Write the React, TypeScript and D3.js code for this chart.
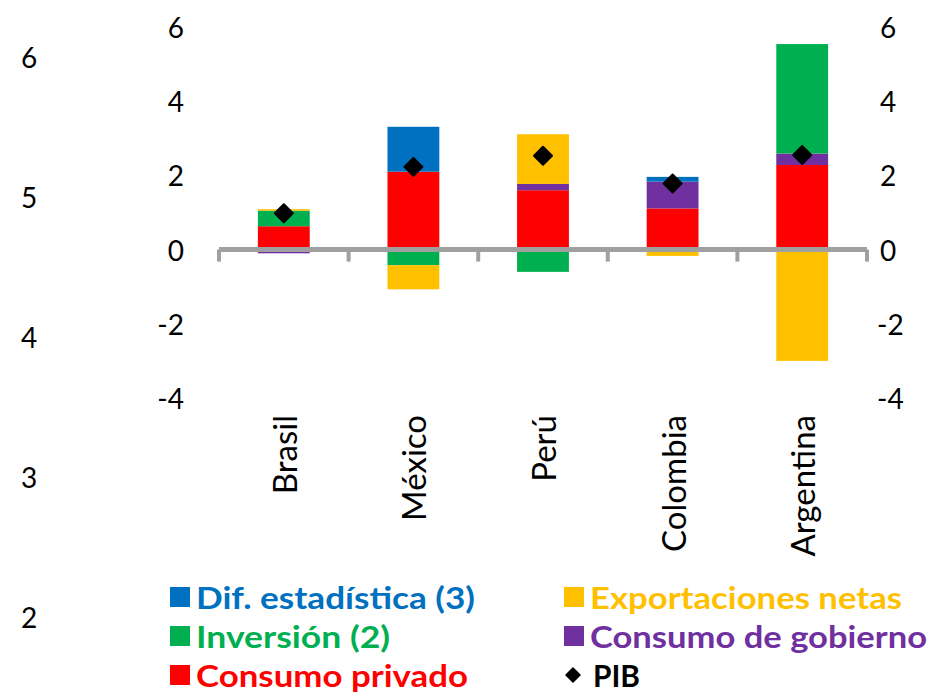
import React from "react";
import * as d3 from "d3";

const categories = ["Brasil", "México", "Perú", "Colombia", "Argentina"];
const consumoPrivado = [0.63, 2.1, 1.6, 1.11, 2.28];
const consumoGobierno = [-0.1, 0, 0.17, 0.72, 0.31];
const inversion = [0.42, -0.42, -0.6, 0, 2.95];
const exportacionesNetas = [0.04, -0.65, 1.34, -0.17, -3.0];
const difEstadistica = [0, 1.21, 0, 0.13, 0];
const pib = [0.98, 2.23, 2.53, 1.78, 2.55];

const seriesKeys = ["privado", "gobierno", "inversion", "export", "dif"];
const seriesColors = ["#FF0000", "#7030A0", "#00B050", "#FFC000", "#0070C0"];
const yTicks = [-4, -2, 0, 2, 4, 6];
const leftTicks = [2, 3, 4, 5, 6];

const W = 946;
const H = 694;
const FONT = "Lato, 'Open Sans', sans-serif";

export default function App() {
  const table = categories.map((c, i) => ({
    cat: c,
    privado: consumoPrivado[i],
    gobierno: consumoGobierno[i],
    inversion: inversion[i],
    export: exportacionesNetas[i],
    dif: difEstadistica[i],
  }));
  const stacked = d3.stack<any>().keys(seriesKeys).offset(d3.stackOffsetDiverging)(table);

  const x = d3.scaleBand<string>().domain(categories).range([219, 867]).padding(0);
  const barW = x.bandwidth() * 0.4;
  const y = d3.scaleLinear().domain([-4, 6]).range([398, 27]);
  const yLeft = d3.scaleLinear().domain([2, 6]).range([617, 57]);

  const diamond = (s: number) => `M0,${-s}L${s},0L0,${s}L${-s},0Z`;

  const legend = [
    { label: "Dif. estadística (3)", color: "#0070C0", x: 170, y: 597, len: 279 },
    { label: "Exportaciones netas", color: "#FFC000", x: 564, y: 597, len: 312 },
    { label: "Inversión (2)", color: "#00B050", x: 170, y: 636, len: 194 },
    { label: "Consumo de gobierno", color: "#7030A0", x: 564, y: 636, len: 337 },
    { label: "Consumo privado", color: "#FF0000", x: 170, y: 675, len: 272 },
  ];

  return (
    <svg width={W} height={H} style={{ position: "absolute", left: 0, top: 0, background: "#fff" }} fontFamily={FONT}>
      {leftTicks.map((t) => (
        <text key={"l" + t} x={29} y={yLeft(t)} textAnchor="middle" dominantBaseline="central" fontSize={28} fill="#000">
          {t}
        </text>
      ))}
      {yTicks.map((t) => (
        <text key={"y" + t} x={184} y={y(t)} textAnchor="end" dominantBaseline="central" fontSize={28} fill="#000">
          {t}
        </text>
      ))}
      {yTicks.map((t) => (
        <text key={"r" + t} x={t < 0 ? 877 : 880} y={y(t)} textAnchor="start" dominantBaseline="central" fontSize={28} fill="#000">
          {t}
        </text>
      ))}
      {stacked.map((s, si) => (
        <g key={s.key} fill={seriesColors[si]}>
          {s.map((d, i) => {
            const y0 = y(d[0]);
            const y1 = y(d[1]);
            const h = Math.abs(y0 - y1);
            if (h < 0.01) return null;
            return (
              <rect
                key={i}
                x={(x(categories[i]) as number) + (x.bandwidth() - barW) / 2}
                y={Math.min(y0, y1)}
                width={barW}
                height={h}
              />
            );
          })}
        </g>
      ))}
      <g stroke="#A0A0A0" strokeWidth={5} fill="none">
        <line x1={219} x2={867} y1={y(0)} y2={y(0)} />
        {categories.map((c) => (
          <line key={c} x1={x(c) as number} x2={x(c) as number} y1={y(0)} y2={y(0) + 12} strokeWidth={4} />
        ))}
        <line x1={867} x2={867} y1={y(0)} y2={y(0) + 12} strokeWidth={4} />
      </g>
      {pib.map((v, i) => (
        <path
          key={"p" + i}
          d={diamond(9)}
          transform={`translate(${(x(categories[i]) as number) + x.bandwidth() / 2},${y(v)})`}
          fill="#000"
          stroke="#000"
          strokeWidth={2}
          strokeLinejoin="round"
        />
      ))}
      {categories.map((c) => (
        <text
          key={"c" + c}
          transform={`translate(${(x(c) as number) + x.bandwidth() / 2},415) rotate(-90)`}
          textAnchor="end"
          dominantBaseline="central"
          fontSize={33}
          fill="#000"
        >
          {c}
        </text>
      ))}
      {legend.map((l) => (
        <g key={l.label}>
          <rect x={l.x} y={l.y - 10} width={20} height={20} fill={l.color} />
          <text
            x={l.x + 26}
            y={l.y}
            dominantBaseline="central"
            fontSize={30}
            fontWeight="bold"
            fill={l.color}
            textLength={l.len}
            lengthAdjust="spacingAndGlyphs"
          >
            {l.label}
          </text>
        </g>
      ))}
      <path d={diamond(7)} transform="translate(573,675)" fill="#000" stroke="#000" strokeWidth={1.5} strokeLinejoin="round" />
      <text x={593} y={675} dominantBaseline="central" fontSize={30} fontWeight="bold" fill="#000" textLength={47} lengthAdjust="spacingAndGlyphs">
        PIB
      </text>
    </svg>
  );
}
